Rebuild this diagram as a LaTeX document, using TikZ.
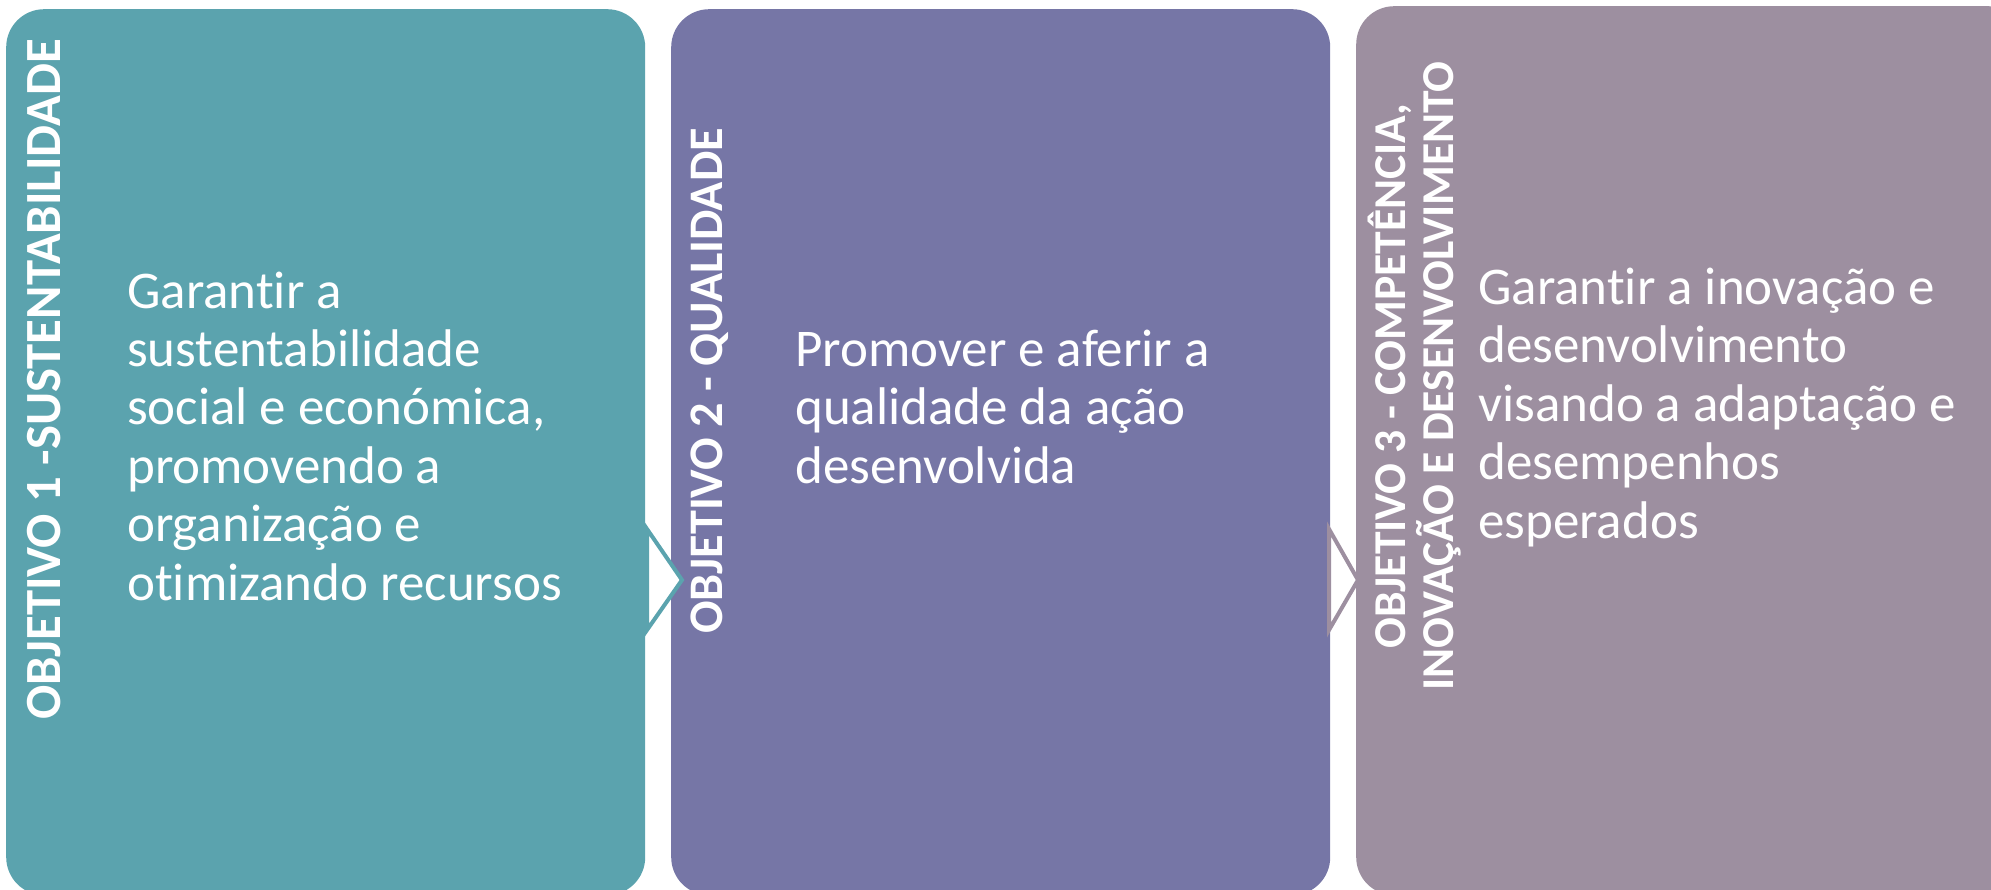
\documentclass[tikz,border=0pt]{standalone}
\usepackage{fontspec}
\setmainfont{Carlito}[Ligatures=NoCommon]
\usetikzlibrary{calc}
\definecolor{cteal}{RGB}{91,163,174}
\definecolor{cpurp}{RGB}{118,118,166}
\definecolor{cmauve}{RGB}{157,143,160}
\begin{document}
\begin{tikzpicture}[x=1pt,y=-1pt,
  panel/.style={draw=none,rounded corners=38pt,anchor=north west,inner sep=0pt},
  lbl/.style={rotate=90,anchor=base,text=white,inner sep=0pt,align=center},
  body/.style={anchor=base west,align=left,text=white,inner sep=0pt,font=\fontsize{53}{58.4}\selectfont},
  chev/.style={fill=white,line width=4pt,line join=miter}]
\useasboundingbox (0,0) rectangle (1991,890);
\clip (0,0) rectangle (1991,890);
% panels
\node[panel,fill=cteal,minimum width=639pt,minimum height=886pt] (b1) at (6,9) {};
\node[panel,fill=cpurp,minimum width=659pt,minimum height=886pt] (b2) at (671,9) {};
\node[panel,fill=cmauve,minimum width=670pt,minimum height=889pt] (b3) at (1356,6) {};
% chevrons
\coordinate (a1t) at (647,529);
\coordinate (a1b) at (647,630);
\coordinate (a1p) at (682,580);
\draw[chev,draw=cteal] (a1t) -- (a1p) -- (a1b) -- cycle;
\coordinate (a2t) at (1329,529);
\coordinate (a2b) at (1329,630);
\coordinate (a2p) at (1358,580);
\draw[chev,draw=cmauve] (a2t) -- (a2p) -- (a2b) -- cycle;
% vertical labels
\node[lbl,font=\bfseries\fontsize{50.7}{50}\selectfont] (l1) at (60,379.5) {OBJETIVO 1 -SUSTENTABILIDADE};
\node[lbl,font=\bfseries\fontsize{48.2}{50}\selectfont] (l2) at (722,381) {OBJETIVO 2 - QUALIDADE};
\node[lbl,font=\bfseries\fontsize{45.6}{47.5}\selectfont] (l3) at (1453,376) {OBJETIVO 3 - COMPETÊNCIA,\\INOVAÇÃO E DESENVOLVIMENTO};
% body texts (anchored at last baseline)
\node[body] (t1) at (127,600) {Garantir a\\sustentabilidade\\social e económica,\\promovendo a\\organização e\\otimizando recursos};
\node[body] (t2) at (795,483) {Promover e aferir a\\qualidade da ação\\desenvolvida};
\node[body] (t3) at (1478,538) {Garantir a inovação e\\desenvolvimento\\visando a adaptação e\\desempenhos\\esperados};
\end{tikzpicture}
\end{document}
